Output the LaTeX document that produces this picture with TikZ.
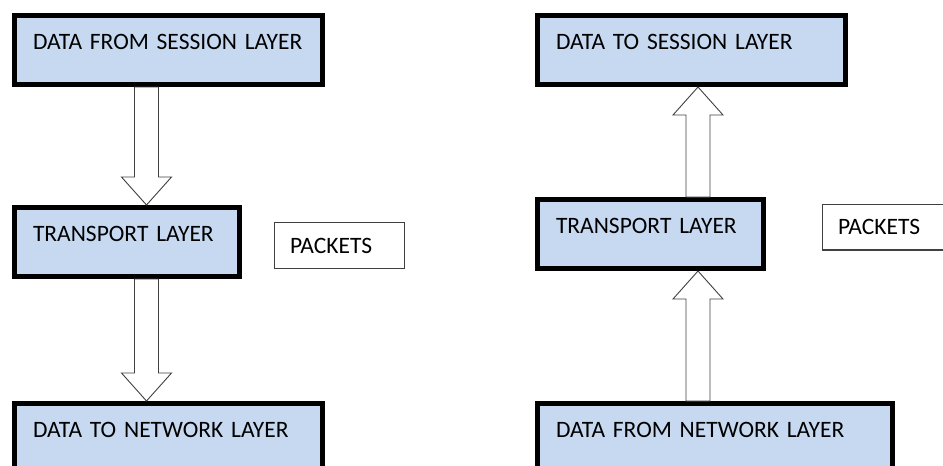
\documentclass[tikz,border=0pt]{standalone}
\usepackage{fontspec}
\setmainfont{Carlito}
\usepackage{xcolor}
\usetikzlibrary{positioning,calc}
\definecolor{layerblue}{RGB}{198,217,241}
\newcommand{\layerfont}{\fontsize{23.5}{28}\selectfont\spaceskip=0.13em\relax}
\tikzset{
    layer-box/.style = {draw=black, fill=layerblue, line width=5pt, rectangle, anchor=north west, align=left, text width=#1, inner xsep=18.5pt, inner ysep=0pt, text height=34pt, text depth=35pt, font=\layerfont},
    packets-box/.style = {draw=black!75, fill=white, line width=1.2pt, rectangle, align=left, text width=99pt, inner xsep=15.4pt, minimum height=45.8pt, font=\layerfont},
    block-arrow/.style = {draw=black!75, fill=white, line width=0.9pt, line join=miter},
}
\newcommand{\layerarrow}[2]{% hollow block arrow from #1 to #2
    \draw[block-arrow] let \p1=(#1), \p2=(#2), \n1={sign(\y1-\y2)} in
        (\x1-12pt,\y1) -- (\x1-12pt,\y2+\n1*28pt) -- (\x1-25pt,\y2+\n1*28pt) -- (\x2,\y2)
        -- (\x1+25pt,\y2+\n1*28pt) -- (\x1+12pt,\y2+\n1*28pt) -- (\x1+12pt,\y1) -- cycle;
}

\begin{document}
\begin{tikzpicture}[x=1pt,y=-1pt]
\useasboundingbox (0,0) rectangle (943,466);
% sending side
\node[layer-box=271pt] (from-session) at (12,13) {DATA FROM SESSION LAYER};
\node[layer-box=188pt, below right=118pt and 0pt of from-session.south west] (transport-send) {TRANSPORT LAYER};
\node[layer-box=271pt, below right=122pt and 0pt of transport-send.south west] (to-network) {DATA TO NETWORK LAYER};
\node[packets-box, right=32pt of transport-send, yshift=-3.5pt] (packets-send) {PACKETS};
\coordinate (send-axis) at (146.5,0);
\layerarrow{from-session.south -| send-axis}{transport-send.north -| send-axis}
\layerarrow{transport-send.south -| send-axis}{to-network.north -| send-axis}

% receiving side
\node[layer-box=271pt] (to-session) at (535,13) {DATA TO SESSION LAYER};
\node[layer-box=189pt, below right=110pt and 0pt of to-session.south west] (transport-recv) {TRANSPORT LAYER};
\node[layer-box=318pt, below right=130pt and 0pt of transport-recv.south west] (from-network) {DATA FROM NETWORK LAYER};
\node[packets-box, right=56pt of transport-recv, yshift=7pt] (packets-recv) {PACKETS};
\coordinate (recv-axis) at (698,0);
\layerarrow{transport-recv.north -| recv-axis}{to-session.south -| recv-axis}
\layerarrow{from-network.north -| recv-axis}{transport-recv.south -| recv-axis}
\end{tikzpicture}
\end{document}
